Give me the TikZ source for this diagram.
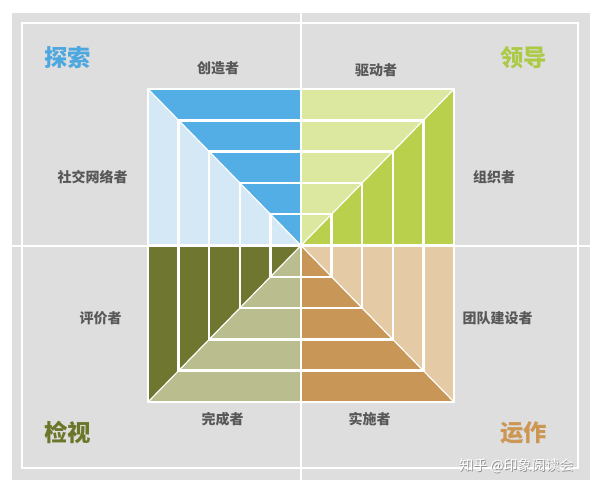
\documentclass[tikz,border=0pt]{standalone}
\usepackage{fontspec}
\setmainfont{Noto Sans CJK SC}
\definecolor{bggray}{RGB}{222,222,222}
\definecolor{dblue}{RGB}{84,174,230}
\definecolor{lblue}{RGB}{213,232,246}
\definecolor{lgreen}{RGB}{220,232,160}
\definecolor{dgreen}{RGB}{185,208,76}
\definecolor{dolive}{RGB}{110,118,48}
\definecolor{lolive}{RGB}{186,189,142}
\definecolor{dbrown}{RGB}{200,150,86}
\definecolor{lbrown}{RGB}{228,203,165}
\definecolor{labgray}{RGB}{88,88,88}
\definecolor{tblue}{RGB}{78,168,224}
\definecolor{tgreen}{RGB}{172,202,72}
\definecolor{tolive}{RGB}{108,118,40}
\definecolor{tbrown}{RGB}{204,150,84}
\tikzset{
  role/.style={font=\bfseries\fontsize{10.5}{12}\selectfont, text=labgray, inner sep=0pt},
  quad/.style={font=\bfseries\fontsize{17.5}{20}\selectfont, inner sep=0pt},
  gridline/.style={white, line width=1.9pt},
  diagline/.style={white, line width=0.9pt},
}
\begin{document}
\begin{tikzpicture}[x=0.75pt,y=-0.75pt]
\useasboundingbox (0,0) rectangle (600,493);
\fill[white] (0,0) rectangle (600,493);
\fill[bggray] (12,13) rectangle (590,480);
\draw[white, line width=1.5pt] (22,23) rectangle (578,468);
\draw[white, line width=1.5pt] (301,13) -- (301,480);
\draw[white, line width=1.5pt] (12,245.5) -- (590,245.5);

\coordinate (C) at (301,245.5);
\coordinate (TL) at (148,89);
\coordinate (TR) at (454,89);
\coordinate (BR) at (454,402);
\coordinate (BL) at (148,402);
\coordinate (T) at (301,89);
\coordinate (B) at (301,402);
\coordinate (L) at (148,245.5);
\coordinate (R) at (454,245.5);

\fill[dblue] (TL) -- (T) -- (C) -- cycle;
\fill[lblue] (TL) -- (C) -- (L) -- cycle;
\fill[lgreen] (T) -- (TR) -- (C) -- cycle;
\fill[dgreen] (TR) -- (R) -- (C) -- cycle;
\fill[lbrown] (R) -- (BR) -- (C) -- cycle;
\fill[dbrown] (BR) -- (B) -- (C) -- cycle;
\fill[lolive] (B) -- (BL) -- (C) -- cycle;
\fill[dolive] (BL) -- (L) -- (C) -- cycle;

\draw[diagline] (TL) -- (BR);
\draw[diagline] (TR) -- (BL);
\foreach \k in {1,...,5}{
  \draw[gridline] ({301-\k*30.6},{245.5-\k*31.3}) rectangle ({301+\k*30.6},{245.5+\k*31.3});
}
\draw[gridline] (T) -- (B);
\draw[gridline] (L) -- (R);

\node[quad, text=tblue] (explore) at (67.5,58) {探索};
\node[quad, text=tgreen] (lead) at (523.5,58) {领导};
\node[quad, text=tolive] (review) at (67.5,432) {检视};
\node[quad, text=tbrown] (operate) at (523.5,433) {运作};

\node[role] (creator) at (218,68) {创造者};
\node[role] (driver) at (376,70) {驱动者};
\node[role] (networker) at (92.5,177) {社交网络者};
\node[role] (organizer) at (494,177) {组织者};
\node[role] (evaluator) at (100.5,318) {评价者};
\node[role] (teambuilder) at (497.5,318) {团队建设者};
\node[role] (finisher) at (222.5,419) {完成者};
\node[role] (implementer) at (369.5,419) {实施者};

\node[font=\fontsize{10.5}{12}\selectfont, text=black!45, inner sep=0pt] (wmshadow) at (517.3,466.3) {知乎 @印象阅读会};
\node[font=\fontsize{10.5}{12}\selectfont, text=white, inner sep=0pt] (wm) at (516.5,465.5) {知乎 @印象阅读会};
\end{tikzpicture}
\end{document}
